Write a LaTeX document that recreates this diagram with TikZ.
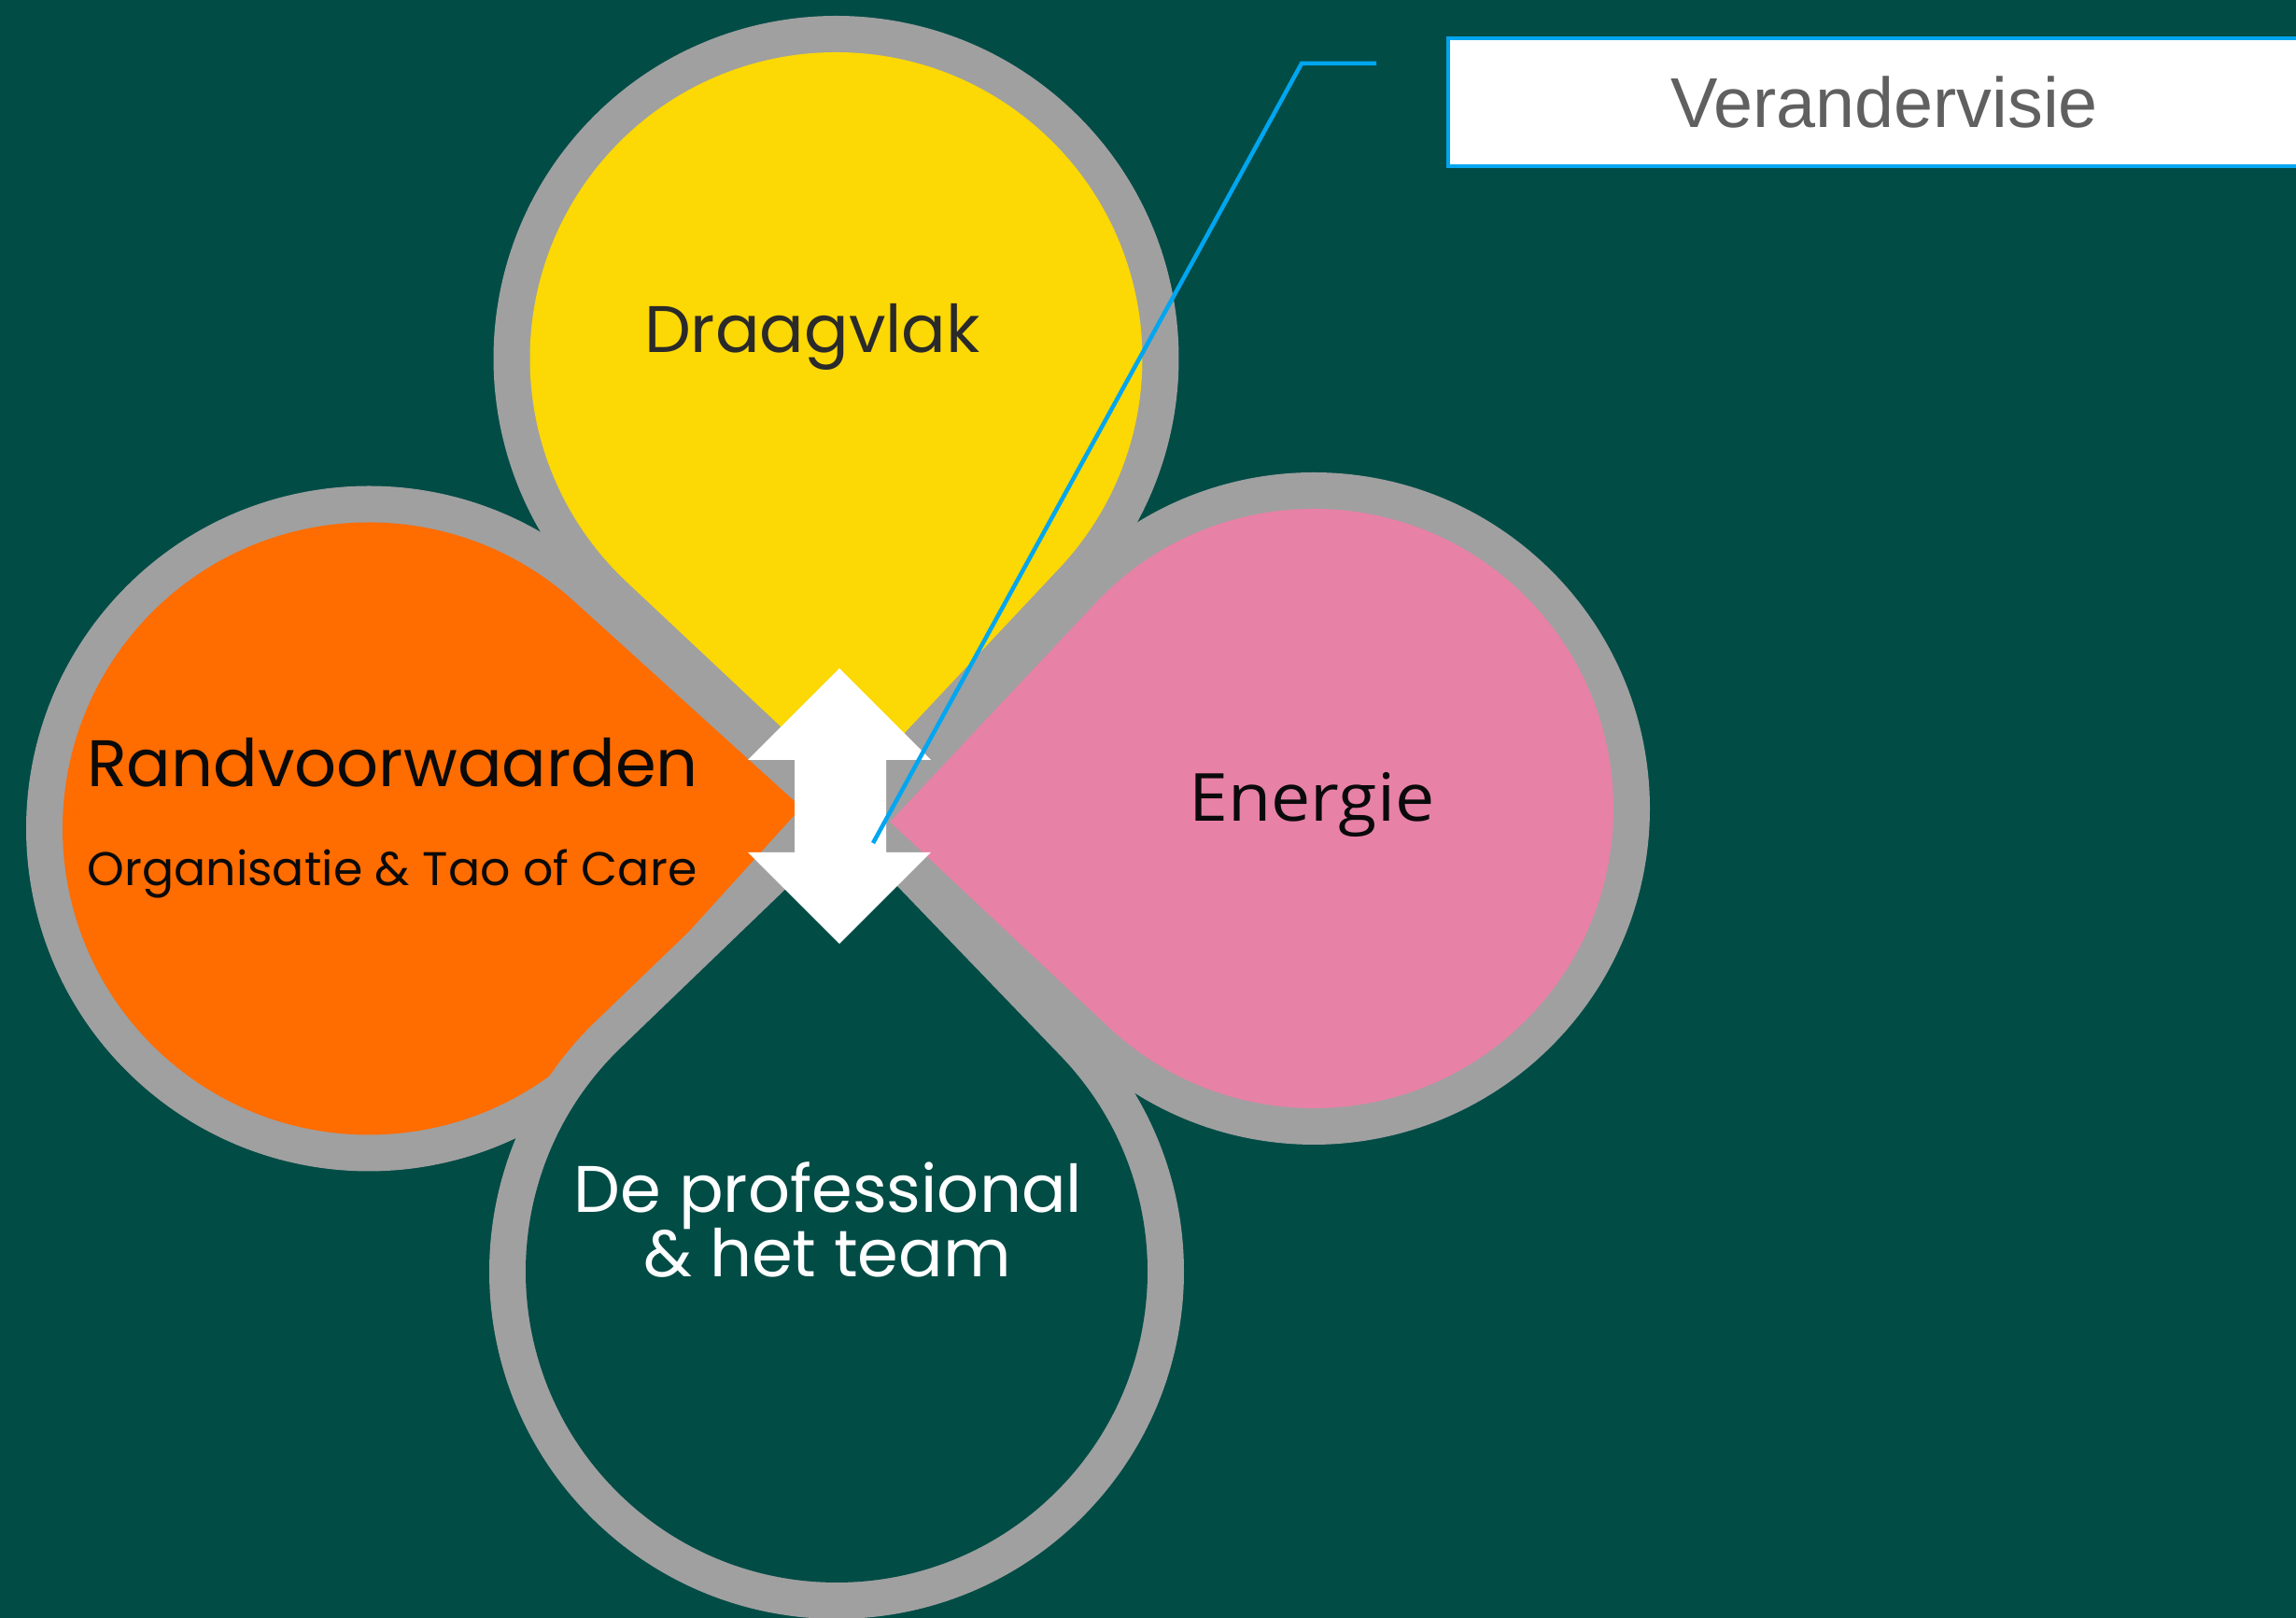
\documentclass[tikz,border=0pt]{standalone}
\usepackage{fontspec}
\setmainfont{Poppins}
\newfontfamily\humanist[FakeStretch=1.06]{Open Sans}
\newfontfamily\arialsub{Liberation Sans}
\usetikzlibrary{calc}
\definecolor{bgteal}{RGB}{2,76,70}
\definecolor{rimgray}{RGB}{160,160,160}
\definecolor{petalyellow}{RGB}{252,216,4}
\definecolor{petalorange}{RGB}{255,108,0}
\definecolor{petalpink}{RGB}{232,129,166}
\definecolor{calloutblue}{RGB}{0,166,240}
\definecolor{inkdark}{RGB}{42,42,42}
\definecolor{inkblack}{RGB}{10,10,10}
\definecolor{boxtext}{RGB}{96,96,96}
\begin{document}
\begin{tikzpicture}[
  petalrim/.style={draw=rimgray, line width=0.78cm, line join=miter},
  callout/.style={draw=calloutblue, line width=0.045cm},
  labelbig/.style={inner sep=0pt, anchor=base, font=\fontsize{20.05pt}{24pt}\selectfont},
  labelsmall/.style={inner sep=0pt, anchor=base, font=\fontsize{14.4pt}{18pt}\selectfont},
  labelhum/.style={inner sep=0pt, anchor=base, font=\humanist\fontsize{20.2pt}{24pt}\selectfont},
  visiebox/.style={draw=calloutblue, line width=0.045cm, fill=white, minimum width=9.34cm, minimum height=1.37cm, inner sep=0pt, text=boxtext, font=\arialsub\fontsize{21.5pt}{25pt}\selectfont}
]
\useasboundingbox (0,0) rectangle (24.59,17.33);
\clip (0,0) rectangle (24.59,17.33);
\fill[bgteal] (0,0) rectangle (24.59,17.33);
% grey rims of the upper, left and right petals
\foreach \cx/\cy/\r/\a in {8.955/13.49/3.28/-88.2, 3.95/8.455/3.28/2.8, 14.07/8.67/3.21/181.8}
  \draw[petalrim] ($(\cx,\cy)+({\a}:{\r*1.41421})$) -- ($(\cx,\cy)+({\a+45}:\r)$) arc[start angle={\a+45}, delta angle=270, radius=\r] -- cycle;
% their fills
\foreach \cx/\cy/\r/\a/\col in {8.955/13.49/3.28/-88.2/petalyellow, 3.95/8.455/3.28/2.8/petalorange, 14.07/8.67/3.21/181.8/petalpink}
  \fill[fill=\col] ($(\cx,\cy)+({\a}:{\r*1.41421})$) -- ($(\cx,\cy)+({\a+45}:\r)$) arc[start angle={\a+45}, delta angle=270, radius=\r] -- cycle;
% lower petal on top
\draw[petalrim, fill=bgteal] ($(8.96,3.71)+({88.9}:{3.33*1.41421})$) -- ($(8.96,3.71)+({88.9+45}:3.33)$) arc[start angle={88.9+45}, delta angle=270, radius=3.33] -- cycle;
\fill[bgteal] ($(8.96,3.71)+({88.9}:{3.33*1.41421})$) -- ($(8.96,3.71)+({88.9+45}:3.33)$) arc[start angle={88.9+45}, delta angle=270, radius=3.33] -- cycle;
% double arrow
\fill[white] (8.99,10.17) -- (9.97,9.19) -- (9.49,9.19) -- (9.49,8.20) -- (9.97,8.20) -- (8.99,7.22) -- (8.01,8.20) -- (8.51,8.20) -- (8.51,9.19) -- (8.01,9.19) -- cycle;
% labels
\node[labelbig, text=inkdark] (draagvlak) at (8.70,13.55) {Draagvlak};
\node[labelbig, text=inkblack] (rand) at (4.205,8.90) {Randvoorwaarden};
\node[labelsmall, text=inkblack] (org) at (4.20,7.84) {Organisatie \& Tao of Care};
\node[labelhum, text=inkblack] (energie) at (14.05,8.53) {Energie};
\node[labelbig, text=white] (prof1) at (8.87,4.34) {De professional};
\node[labelbig, text=white] (prof2) at (8.86,3.65) {\& het team};
% callout
\node[visiebox] (visie) at (20.18,16.235) {Verandervisie};
\coordinate (ptr) at (9.35,8.30);
\coordinate (bend) at (13.94,16.65);
\coordinate (tail) at (14.74,16.65);
\draw[callout] (ptr) -- (bend) -- (tail);
\end{tikzpicture}
\end{document}
